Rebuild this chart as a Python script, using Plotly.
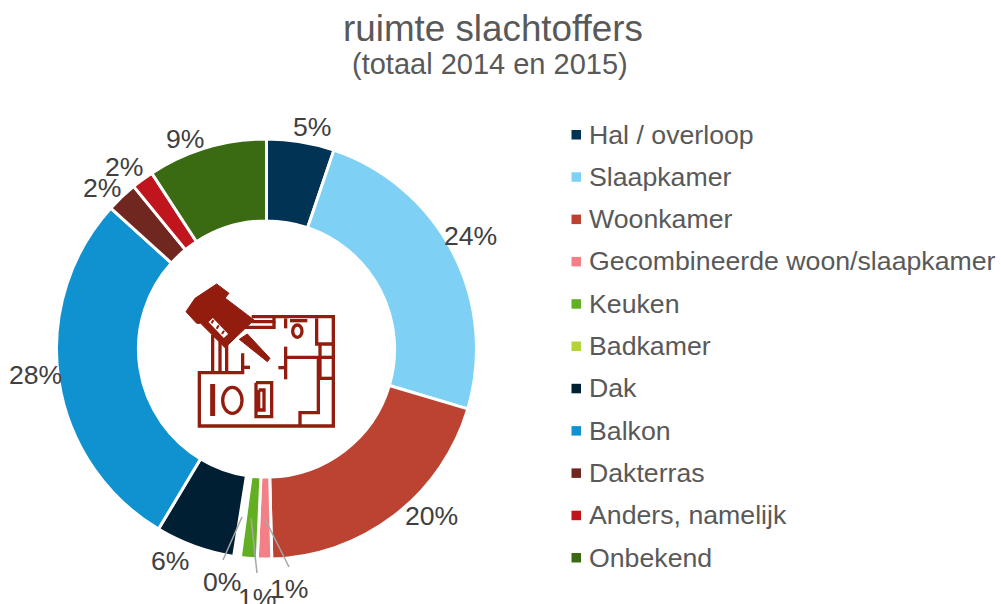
import plotly.graph_objects as go

categories = ["Hal / overloop", "Slaapkamer", "Woonkamer", "Gecombineerde woon/slaapkamer", "Keuken",
              "Badkamer", "Dak", "Balkon", "Dakterras", "Anders, namelijk", "Onbekend"]
values = [5.2, 24.4, 20.0, 1.1, 1.4, 0.4, 6.1, 28.1, 2.4, 1.7, 9.2]
colors = ["#003354", "#7fd0f5", "#bc4232", "#f28086", "#62b022", "#b4d334",
          "#001f33", "#1091d0", "#70271f", "#c0151c", "#3a6b12"]
border_widths = [3, 3, 3, 3, 3, 6, 3, 3, 3, 3, 3]
label_pos = [(312, 127), (470, 236), (431, 516), (289, 589), (257, 598), (222, 582),
             (170, 561), (35, 375), (102, 188), (124, 167), (185, 139)]

W, H = 1001, 604
def px(x): return x / W
def py(y): return 1 - y / H

fig = go.Figure(go.Pie(
    labels=categories, values=values, sort=False, direction="clockwise", rotation=0,
    hole=0.61, textinfo="none", showlegend=False,
    marker=dict(colors=colors, line=dict(color="white", width=border_widths)),
    domain=dict(x=[px(56.5), px(476.5)], y=[py(559), py(139)]),
))

shapes, ann = [], []
def note(x, y, text, size=26.6, color="#404040", anchor="center"):
    ann.append(dict(x=px(x), y=py(y), xref="paper", yref="paper", text=text, showarrow=False,
                    xanchor=anchor, yanchor="middle", font=dict(size=size, color=color), borderpad=0))

# percentage labels
for (x, y), v in zip(label_pos, values):
    note(x, y, f"{round(v)}%")

# leader lines for the small slices
for a, b in [((242, 517), (223, 560)), ((251, 518), (257, 573)), ((265, 519), (289, 567))]:
    shapes.append(dict(type="line", xref="paper", yref="paper", x0=px(a[0]), y0=py(a[1]), x1=px(b[0]), y1=py(b[1]),
                       line=dict(color="#a6a6a6", width=1.5)))

# legend
for i, (c, col) in enumerate(zip(categories, colors)):
    yy = 134.5 + i * 42.3
    shapes.append(dict(type="rect", xref="paper", yref="paper", x0=px(571.5), x1=px(581), y0=py(yy - 4.5), y1=py(yy + 5),
                       fillcolor=col, line=dict(width=0)))
    note(588, yy, c, size=26.7, color="#595959", anchor="left")

note(490, 64, "(totaal 2014 en 2015)", size=29, color="#595959")

# icon, drawn in a local grid
ICON = "#921c0e"
def ix(x): return px(170 + x / 3)
def iy(y): return py(270 + y / 3)
def poly(points, close=False):
    s = "M " + " L ".join(f"{ix(x):.5f},{iy(y):.5f}" for x, y in points)
    return s + (" Z" if close else "")
strokes = [
    [(245, 140), (490, 140), (490, 468), (88, 468), (88, 308), (218, 308), (218, 250)],
    [(218, 292), (240, 292)], [(128, 195), (128, 305)], [(150, 215), (150, 305)], [(170, 220), (170, 305)],
    [(245, 155), (312, 155), (312, 142)], [(225, 172), (312, 172), (312, 155)],
    [(347, 145), (347, 175)], [(360, 152), (412, 152)],
    [(440, 145), (440, 222), (486, 222)], [(450, 222), (450, 325)], [(450, 262), (486, 262)], [(450, 325), (486, 325)],
    [(347, 230), (347, 328)], [(347, 262), (445, 262), (445, 428), (390, 428), (390, 465)], [(325, 293), (347, 293)],
    [(258, 338), (305, 338), (305, 440), (258, 440), (258, 338)],
    [(266, 360), (282, 360), (282, 420), (266, 420), (266, 360)],
]
for st in strokes:
    shapes.append(dict(type="path", xref="paper", yref="paper", path=poly(st), line=dict(color=ICON, width=3.3)))
shapes.append(dict(type="path", xref="paper", yref="paper", path=poly([(128, 342), (128, 438)]), line=dict(color=ICON, width=5)))
shapes.append(dict(type="circle", xref="paper", yref="paper", x0=ix(158), x1=ix(216), y0=iy(352), y1=iy(430),
                   line=dict(color=ICON, width=3.3)))
shapes.append(dict(type="circle", xref="paper", yref="paper", x0=ix(368), x1=ix(396), y0=iy(165), y1=iy(202),
                   line=dict(color=ICON, width=3.3)))
# gavel
shapes.append(dict(type="path", xref="paper", yref="paper", fillcolor=ICON, line=dict(color=ICON, width=1),
                   path=poly([(140, 42), (177, 70), (165, 84), (252, 150), (165, 233), (92, 160), (80, 160),
                              (48, 125), (75, 85)], True)))
shapes.append(dict(type="path", xref="paper", yref="paper", fillcolor=ICON, line=dict(color=ICON, width=1),
                   path=poly([(232, 192), (300, 265), (292, 275), (208, 208)], True)))
shapes.append(dict(type="path", xref="paper", yref="paper", path=poly([(122, 150), (168, 198)]),
                   line=dict(color="white", width=6)))
for a, b in [((130, 150), (125, 160)), ((146, 166), (140, 176)), ((162, 182), (156, 192))]:
    shapes.append(dict(type="path", xref="paper", yref="paper", path=poly([a, b]), line=dict(color=ICON, width=2)))

fig.update_layout(
    width=W, height=H, margin=dict(l=0, r=0, t=0, b=0), paper_bgcolor="white",
    font=dict(family="Liberation Sans, Arial, sans-serif"),
    title=dict(text="ruimte slachtoffers", x=493 / W, xanchor="center", y=py(28), yanchor="middle",
               font=dict(size=36.8, color="#595959")),
    shapes=shapes, annotations=ann,
)
fig.write_html("out.html", config={"displayModeBar": False},
               post_script="document.body.style.margin='0';document.body.style.overflow='hidden';")
